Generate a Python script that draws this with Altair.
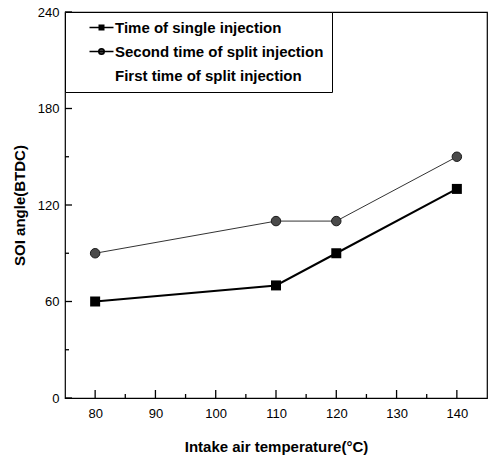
import altair as alt
import pandas as pd

temps = [80, 110, 120, 140]
single = [60, 70, 90, 130]
second_split = [90, 110, 110, 150]
series_names = ["Time of single injection", "Second time of split injection", "First time of split injection"]

y_major = [0, 60, 120, 180, 240]
y_minor = [30, 90, 150, 210]
x_major = [80, 90, 100, 110, 120, 130, 140]
x_minor = [85, 95, 105, 115, 125, 135]

W, H = 422, 386

df = pd.DataFrame({
    "temp": temps * 2,
    "soi": single + second_split,
    "series": [series_names[0]] * 4 + [series_names[1]] * 4,
})

xs = alt.Scale(domain=[75, 145], nice=False, zero=False)
ys = alt.Scale(domain=[0, 240], nice=False)

font = "Liberation Sans, Arial"

xaxis = alt.Axis(values=x_major, ticks=False, tickSize=0, grid=False, domain=False,
                 labelFont=font, labelFontSize=13, labelColor="black",
                 labelPadding=9, title="Intake air temperature(°C)", titleFont=font,
                 titleFontSize=15, titleFontWeight="bold", titleColor="black", titlePadding=19)
yaxis = alt.Axis(values=y_major, ticks=False, tickSize=0, grid=False, domain=False,
                 labelFont=font, labelFontSize=13, labelColor="black",
                 labelPadding=6, title="SOI angle(BTDC)", titleFont=font,
                 titleFontSize=15, titleFontWeight="bold", titleColor="black", titlePadding=10)

base = alt.Chart(df)

line1 = base.transform_filter(alt.datum.series == series_names[0]).mark_line(
    color="black", strokeWidth=2).encode(
    x=alt.X("temp:Q", scale=xs, axis=xaxis), y=alt.Y("soi:Q", scale=ys, axis=yaxis))
line2 = base.transform_filter(alt.datum.series == series_names[1]).mark_line(
    color="#333333", strokeWidth=1).encode(x=alt.X("temp:Q", scale=xs), y=alt.Y("soi:Q", scale=ys))
pts1 = base.transform_filter(alt.datum.series == series_names[0]).mark_point(
    shape="square", filled=True, fill="black", size=100, opacity=1).encode(
    x=alt.X("temp:Q", scale=xs), y=alt.Y("soi:Q", scale=ys))
pts2 = base.transform_filter(alt.datum.series == series_names[1]).mark_point(
    shape="circle", filled=True, fill="#4a4a4a", stroke="#1a1a1a", strokeWidth=1, size=90, opacity=1).encode(
    x=alt.X("temp:Q", scale=xs), y=alt.Y("soi:Q", scale=ys))

sq_path = "M-2.4,0H2.4M-0.45,-0.45H0.45V0.45H-0.45Z"
ci_path = "M-2.4,0H2.4M0.55,0A0.55,0.55,0,1,1,-0.55,0A0.55,0.55,0,1,1,0.55,0Z"
none_path = "M0,0Z"

legend = alt.Legend(title=None, orient="top-left", offset=0, padding=8, rowPadding=8,
                    symbolOffset=21, labelOffset=6, labelFont=font, labelFontSize=15,
                    labelFontWeight="bold", labelColor="black", fillColor="white",
                    strokeColor="black", cornerRadius=0, symbolStrokeWidth=1.5, labelLimit=400)

leg = base.transform_filter("false").mark_point(
    filled=True, stroke="black", strokeWidth=1.5, size=196, opacity=1).encode(
    x=alt.X("temp:Q", scale=xs), y=alt.Y("soi:Q", scale=ys),
    shape=alt.Shape("series:N", scale=alt.Scale(domain=series_names, range=[sq_path, ci_path, none_path]), legend=legend),
    fill=alt.Fill("series:N", scale=alt.Scale(domain=series_names, range=["black", "#4a4a4a", "white"]), legend=legend),
)

ymaj = alt.Chart(pd.DataFrame({"ya": y_major})).mark_rule(color="black", strokeWidth=1.3).encode(
    y=alt.Y("ya:Q", scale=ys), x=alt.value(0), x2=alt.value(7))
ymin = alt.Chart(pd.DataFrame({"yb": y_minor})).mark_rule(color="black", strokeWidth=1.3).encode(
    y=alt.Y("yb:Q", scale=ys), x=alt.value(0), x2=alt.value(4))
xmaj = alt.Chart(pd.DataFrame({"xa": x_major})).mark_rule(color="black", strokeWidth=1.3).encode(
    x=alt.X("xa:Q", scale=xs), y=alt.value(H), y2=alt.value(H - 8))
xmin = alt.Chart(pd.DataFrame({"xb": x_minor})).mark_rule(color="black", strokeWidth=1.3).encode(
    x=alt.X("xb:Q", scale=xs), y=alt.value(H), y2=alt.value(H - 4))

chart = alt.layer(line1, line2, pts1, pts2, ymaj, ymin, xmaj, xmin, leg).properties(
    width=W, height=H,
    autosize=alt.AutoSizeParams(type="none"),
    padding={"left": 65, "top": 12, "right": 5, "bottom": 63},
    background="white",
).configure_view(stroke="black", strokeWidth=1.2)

chart.save("out.html", embed_options={"renderer": "svg", "actions": False})
